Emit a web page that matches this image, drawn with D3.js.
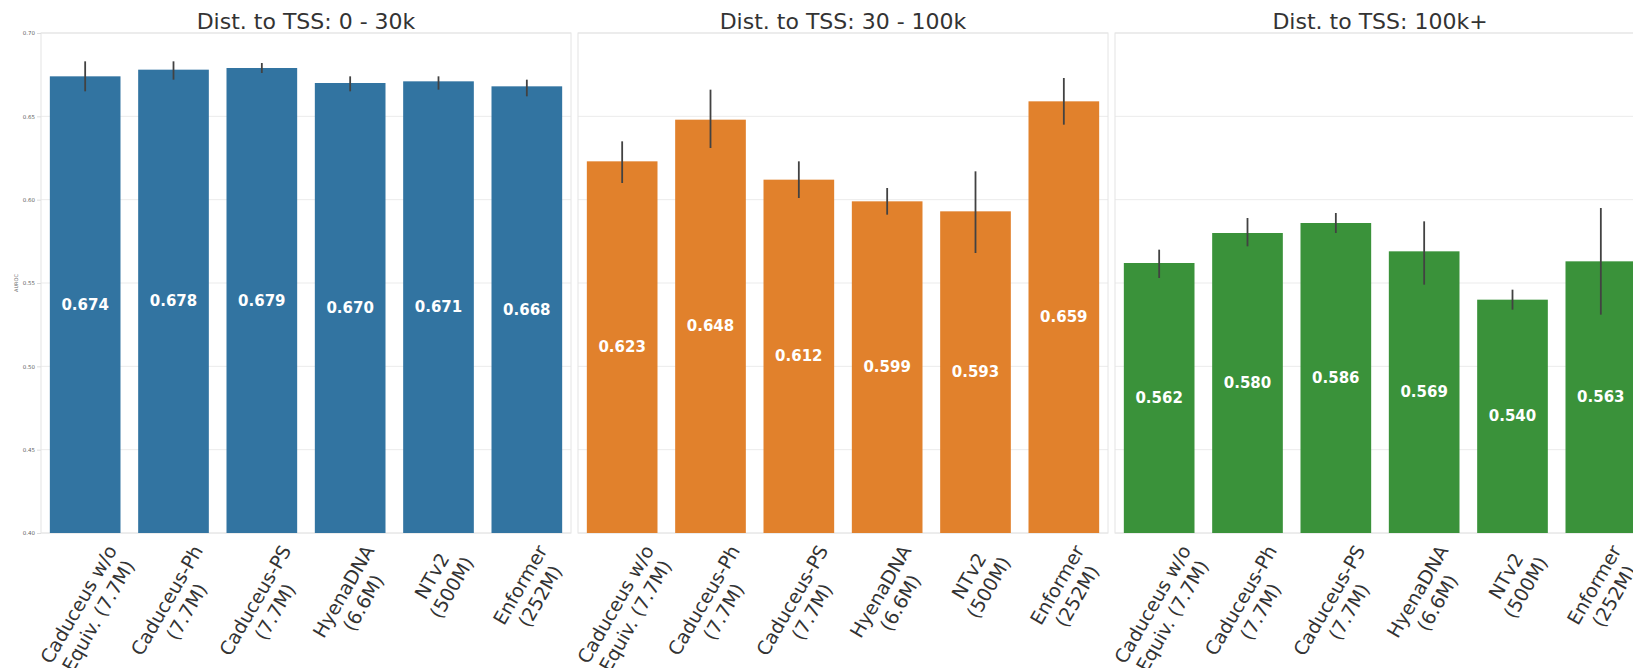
<!DOCTYPE html>
<html>
<head>
<meta charset="utf-8">
<script src="https://cdn.jsdelivr.net/npm/d3@7"></script>
<style>
  body { margin: 0; background: #fff; }
  svg { display: block; font-family: "DejaVu Sans", sans-serif; }
</style>
</head>
<body>
<div id="plot"></div>
<script>
// models on the x axis (label lines split on \n)
const categories = [
  "Caduceus w/o\nEquiv. (7.7M)",
  "Caduceus-Ph\n(7.7M)",
  "Caduceus-PS\n(7.7M)",
  "HyenaDNA\n(6.6M)",
  "NTv2\n(500M)",
  "Enformer\n(252M)"
]
const panelTitles = ["Dist. to TSS: 0 - 30k", "Dist. to TSS: 30 - 100k", "Dist. to TSS: 100k+"]
const panelColors = ["#3274a1", "#e1812c", "#3a923a"]
const yTicks = [0.40, 0.45, 0.50, 0.55, 0.60, 0.65, 0.70]

// mean AUROC per panel
const auroc0to30k = [0.674, 0.678, 0.679, 0.670, 0.671, 0.668]
const auroc30to100k = [0.623, 0.648, 0.612, 0.599, 0.593, 0.659]
const auroc100kPlus = [0.562, 0.580, 0.586, 0.569, 0.540, 0.563]

// error bar ends
const low0to30k = [0.665, 0.672, 0.676, 0.665, 0.666, 0.662]
const high0to30k = [0.683, 0.683, 0.682, 0.674, 0.674, 0.672]
const low30to100k = [0.610, 0.631, 0.601, 0.591, 0.568, 0.645]
const high30to100k = [0.635, 0.666, 0.623, 0.607, 0.617, 0.673]
const low100kPlus = [0.553, 0.572, 0.580, 0.549, 0.534, 0.531]
const high100kPlus = [0.570, 0.589, 0.592, 0.587, 0.546, 0.595]

const panels = [
  {title: panelTitles[0], color: panelColors[0], vals: auroc0to30k, lo: low0to30k, hi: high0to30k},
  {title: panelTitles[1], color: panelColors[1], vals: auroc30to100k, lo: low30to100k, hi: high30to100k},
  {title: panelTitles[2], color: panelColors[2], vals: auroc100kPlus, lo: low100kPlus, hi: high100kPlus}
]

const W = 1633, H = 668
const panelW = 530, panelGap = 7, left = 41
const plotTop = 33, plotBottom = 533

const svg = d3.select("#plot").append("svg")
  .attr("width", W).attr("height", H)

const y = d3.scaleLinear().domain([0.40, 0.70]).range([plotBottom, plotTop])
const fmt = d3.format(".3f")

panels.forEach(function(p, i) {
  const x0 = left + i * (panelW + panelGap)
  const x = d3.scaleBand().domain(categories)
    .range([x0, x0 + panelW]).paddingInner(0.2).paddingOuter(0.1)

  const g = svg.append("g")

  // grid
  g.append("g").selectAll("line").data(yTicks).enter().append("line")
    .attr("x1", x0).attr("x2", x0 + panelW)
    .attr("y1", d => y(d)).attr("y2", d => y(d))
    .attr("stroke", "#ebebeb").attr("stroke-width", 1)

  // frame
  g.append("rect")
    .attr("x", x0).attr("y", plotTop).attr("width", panelW).attr("height", plotBottom - plotTop)
    .attr("fill", "none").attr("stroke", "#e4e4e4").attr("stroke-width", 1)

  // bars
  g.append("g").selectAll("rect").data(categories).enter().append("rect")
    .attr("x", d => x(d))
    .attr("y", (d, j) => y(p.vals[j]))
    .attr("width", x.bandwidth())
    .attr("height", (d, j) => y(0.40) - y(p.vals[j]))
    .attr("fill", p.color)

  // error bars
  g.append("g").selectAll("line").data(categories).enter().append("line")
    .attr("x1", d => x(d) + x.bandwidth() / 2)
    .attr("x2", d => x(d) + x.bandwidth() / 2)
    .attr("y1", (d, j) => y(p.lo[j]))
    .attr("y2", (d, j) => y(p.hi[j]))
    .attr("stroke", "#424242").attr("stroke-width", 1.8)

  // value labels in the middle of each bar
  g.append("g").selectAll("text").data(categories).enter().append("text")
    .attr("x", d => x(d) + x.bandwidth() / 2)
    .attr("y", (d, j) => (y(p.vals[j]) + y(0.40)) / 2)
    .attr("text-anchor", "middle")
    .attr("dominant-baseline", "central")
    .attr("fill", "#fff")
    .attr("font-weight", "bold")
    .attr("font-size", "15px")
    .text((d, j) => fmt(p.vals[j]))

  // title
  svg.append("text")
    .attr("x", x0 + panelW / 2).attr("y", 29)
    .attr("text-anchor", "middle")
    .attr("fill", "#333")
    .attr("font-size", "22px")
    .text(p.title)

  // rotated x labels, bbox centred under the tick
  const fs = 19, lh = fs * 1.2
  categories.forEach(function(c) {
    const lines = c.split("\n")
    const lg = svg.append("g")
    const t = lg.append("text")
      .attr("text-anchor", "middle")
      .attr("fill", "#333")
      .attr("font-size", fs + "px")
    lines.forEach(function(l, k) {
      t.append("tspan")
        .attr("x", 0)
        .attr("y", (k - (lines.length - 1) / 2) * lh)
        .attr("dominant-baseline", "central")
        .text(l)
    })
    const w = d3.max(t.selectAll("tspan").nodes(), n => n.getComputedTextLength())
    const h = lines.length * lh
    const a = Math.PI / 3
    const bh = w * Math.sin(a) + h * Math.cos(a)
    lg.attr("transform", "translate(" + (x(c) + x.bandwidth() / 2 + 3) + "," + (541 + bh / 2) + ") rotate(-60)")
  })

  // y axis only on first panel
  if (i === 0) {
    const ax = svg.append("g")
      .attr("transform", "translate(" + x0 + ",0)")
      .call(d3.axisLeft(y).tickValues(yTicks).tickFormat(d3.format(".2f")).tickSize(4).tickPadding(2))
    ax.select(".domain").remove()
    ax.selectAll(".tick line").attr("stroke", "#ddd")
    ax.selectAll(".tick text").attr("fill", "#666").attr("font-size", "5.5px")
      .attr("font-family", "DejaVu Sans")

    svg.append("text")
      .attr("transform", "translate(18," + ((plotTop + plotBottom) / 2) + ") rotate(-90)")
      .attr("text-anchor", "middle")
      .attr("fill", "#666")
      .attr("font-size", "5px")
      .text("AUROC")
  }
})
</script>
</body>
</html>
